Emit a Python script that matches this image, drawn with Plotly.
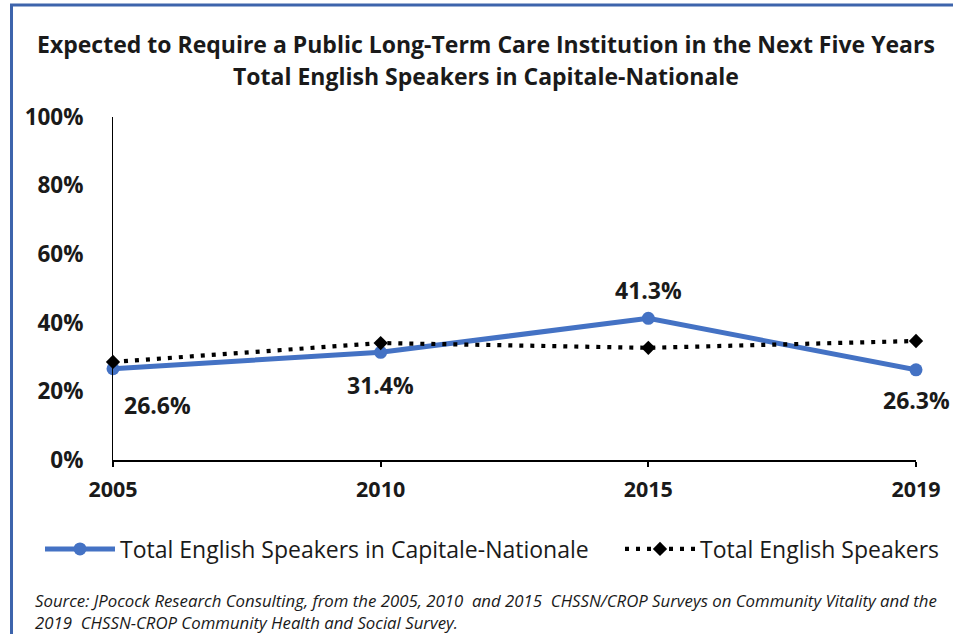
import plotly.graph_objects as go

years = ["2005", "2010", "2015", "2019"]
capitale = [26.6, 31.4, 41.3, 26.3]
total = [28.6, 34.1, 32.7, 34.7]
label_shifts = [(44, -36), (0, -33), (0, 28), (0, -30)]
y_ticks = [0, 20, 40, 60, 80, 100]
title_lines = ["Expected to Require a Public Long-Term Care Institution in the Next Five Years",
               "Total English Speakers in Capitale-Nationale"]

FONT = "Open Sans"
TXT = "#1a1a1a"

fig = go.Figure()
fig.add_trace(go.Scatter(
    x=years, y=capitale, mode="lines+markers",
    name="Total English Speakers in Capitale-Nationale",
    line=dict(color="#4472C4", width=5),
    marker=dict(symbol="circle", size=13, color="#4472C4"),
    cliponaxis=False, legend="legend",
))
fig.add_trace(go.Scatter(
    x=years, y=total, mode="lines+markers",
    name="Total English Speakers",
    line=dict(color="black", width=4.2, dash="4px,7px"),
    marker=dict(symbol="diamond", size=11, color="black"),
    cliponaxis=False, legend="legend2",
))

for i, (v, (dx, dy)) in enumerate(zip(capitale, label_shifts)):
    fig.add_annotation(x=i, y=v, text=f"{v:.1f}%", showarrow=False,
                       xshift=dx, yshift=dy,
                       font=dict(family=FONT, size=23, color=TXT, weight="bold"))

for line, ypx in zip(title_lines, [44, 76]):
    fig.add_annotation(xref="paper", yref="paper", x=(488 - 113) / 807,
                       y=(460 - ypx) / 343, xanchor="center", yanchor="middle",
                       showarrow=False, text=line,
                       font=dict(family=FONT, size=23, color=TXT, weight="bold"))

fig.add_annotation(
    xref="paper", yref="paper", x=(33 - 113) / 807, y=(460 - 611) / 343,
    xanchor="left", yanchor="middle", align="left", showarrow=False,
    text="<i>Source: JPocock Research Consulting, from the 2005, 2010  and 2015  CHSSN/CROP Surveys on Community Vitality and the<br>2019  CHSSN-CROP Community Health and Social Survey.</i>",
    font=dict(family=FONT, size=16.8, color=TXT),
)

fig.add_shape(type="rect", xref="paper", yref="paper",
              x0=(11 - 113) / 807, x1=1.2, y0=-1.0, y1=(460 - 5) / 343,
              line=dict(color="#3D64AC", width=3), fillcolor="rgba(0,0,0,0)")

legend_common = dict(orientation="h", xref="container", yref="container",
                     y=1 - 549 / 634, xanchor="left", yanchor="middle",
                     font=dict(family=FONT, size=23, color=TXT),
                     itemwidth=70, bgcolor="rgba(0,0,0,0)")

fig.update_layout(
    width=953, height=634,
    margin=dict(l=113, r=33, t=117, b=174),
    paper_bgcolor="white", plot_bgcolor="white",
    showlegend=True,
    legend=dict(x=40 / 953, **legend_common),
    legend2=dict(x=620 / 953, **legend_common),
    xaxis=dict(type="category", range=[0, 3], showgrid=False, showline=True,
               linecolor="black", linewidth=1.5, ticks="outside", ticklen=5,
               tickcolor="black", tickwidth=1.5, ticklabelstandoff=4,
               tickfont=dict(family=FONT, size=21.5, color=TXT, weight="bold"),
               zeroline=False),
    yaxis=dict(range=[0, 100], tickvals=y_ticks, ticktext=[f"{t}%" for t in y_ticks],
               showgrid=False, showline=True, linecolor="black", linewidth=1,
               ticks="", zeroline=False, ticklabelstandoff=24,
               tickfont=dict(family=FONT, size=22.5, color=TXT, weight="bold")),
)

fig.write_html("out.html", post_script="document.body.style.margin='0';",
               config={"displayModeBar": False})
